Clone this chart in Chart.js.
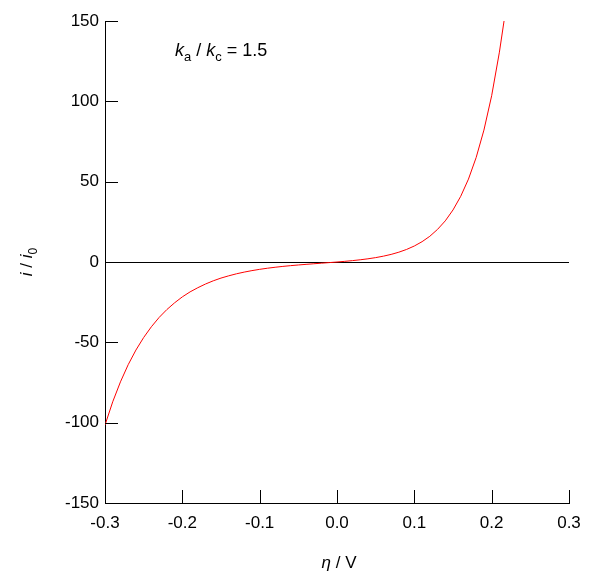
<!DOCTYPE html>
<html>
<head>
<meta charset="utf-8">
<script src="https://cdn.jsdelivr.net/npm/chart.js@4/dist/chart.umd.min.js"></script>
<style>
html,body{margin:0;padding:0;background:#fff;}
#wrap{width:610px;height:573px;position:relative;}
</style>
</head>
<body>
<div id="wrap"><canvas id="c" width="610" height="573"></canvas></div>
<script>
// Overpotential (V) and normalised current
const eta = [-0.30,-0.29,-0.28,-0.27,-0.26,-0.25,-0.24,-0.23,-0.22,-0.21,-0.20,-0.19,-0.18,-0.17,-0.16,-0.15,-0.14,-0.13,-0.12,-0.11,-0.10,-0.09,-0.08,-0.07,-0.06,-0.05,-0.04,-0.03,-0.02,-0.01,0.00,0.01,0.02,0.03,0.04,0.05,0.06,0.07,0.08,0.09,0.10,0.11,0.12,0.13,0.14,0.15,0.16,0.17,0.18,0.19,0.20,0.21,0.216];
const current = [-101.5,-87.0,-74.6,-63.9,-54.8,-47.0,-40.3,-34.5,-29.6,-25.4,-21.7,-18.6,-16.0,-13.7,-11.7,-10.0,-8.6,-7.35,-6.29,-5.36,-4.57,-3.88,-3.27,-2.74,-2.27,-1.85,-1.46,-1.09,-0.73,-0.37,0,0.40,0.86,1.38,1.99,2.73,3.63,4.73,6.11,7.82,9.96,12.65,16.0,20.3,25.6,32.4,40.9,51.6,65.1,82.1,103.5,130.6,150];
const xTicks = [-0.3,-0.2,-0.1,0.0,0.1,0.2,0.3];
const yTicks = [-150,-100,-50,0,50,100,150];

const FONT = '"Liberation Sans", Arial, sans-serif';
const points = eta.map((x,i)=>({x:x,y:current[i]}));

const deco = {
  id:'deco',
  afterDraw(chart){
    const ctx = chart.ctx, xs = chart.scales.x, ys = chart.scales.y, a = chart.chartArea;
    ctx.save();
    ctx.strokeStyle = '#000'; ctx.lineWidth = 1;
    // inward ticks
    xTicks.forEach(v=>{
      if (v === xTicks[0]) return;
      const px = Math.round(xs.getPixelForValue(v)) + 0.5;
      ctx.beginPath(); ctx.moveTo(px, a.bottom); ctx.lineTo(px, a.bottom - 13); ctx.stroke();
    });
    yTicks.forEach(v=>{
      if (v === yTicks[0]) return;
      const py = Math.round(ys.getPixelForValue(v)) + 0.5;
      ctx.beginPath(); ctx.moveTo(a.left, py); ctx.lineTo(a.left + 13, py); ctx.stroke();
    });
    ctx.fillStyle = '#000';
    ctx.textBaseline = 'alphabetic';
    let x, y;
    function put(t, f, dy){ ctx.font = f; ctx.textAlign='left'; ctx.fillText(t, x, y + (dy||0)); x += ctx.measureText(t).width; }
    // annotation k_a / k_c = 1.5
    const big18 = '18px ' + FONT, big18I = 'italic 18px ' + FONT, sub13 = '13px ' + FONT;
    x = 175; y = 56;
    put('k', big18I); put('a', sub13, 5); put(' / ', big18); put('k', big18I); put('c', sub13, 5); put(' = 1.5', big18);
    // x title
    const big = '17px ' + FONT, bigI = 'italic 17px ' + FONT, small = '12px ' + FONT;
    ctx.font = bigI; const w1 = ctx.measureText('η').width; ctx.font = big; const w2 = ctx.measureText(' / V').width;
    x = 339 - (w1 + w2)/2; y = 568;
    put('η', bigI); put(' / V', big);
    // y title (rotated)
    ctx.translate(32, 262); ctx.rotate(-Math.PI/2);
    ctx.font = bigI; const a1 = ctx.measureText('i').width;
    ctx.font = big; const a2 = ctx.measureText(' / ').width;
    ctx.font = bigI; const a3 = ctx.measureText('i').width;
    ctx.font = small; const a4 = ctx.measureText('0').width;
    x = -(a1+a2+a3+a4)/2; y = 0;
    put('i', bigI); put(' / ', big); put('i', bigI); put('0', small, 5);
    ctx.restore();
  }
};

new Chart(document.getElementById('c'), {
  type:'scatter',
  data:{datasets:[{data:points, showLine:true, borderColor:'#ff0000', borderWidth:1, pointRadius:0, tension:0, fill:false}]},
  options:{
    responsive:false, animation:false, events:[],
    layout:{padding:{top:21, right:41, left:0, bottom:0}},
    plugins:{legend:{display:false}, tooltip:{enabled:false}},
    scales:{
      x:{type:'linear', min:-0.3, max:0.3,
        afterBuildTicks(s){ s.ticks = xTicks.map(v=>({value:v})); },
        afterFit(s){ s.height = 70; },
        border:{display:true, color:'#000', width:1},
        grid:{display:false, drawTicks:false},
        ticks:{color:'#000', padding:10, maxRotation:0, font:{family:FONT, size:17}, callback:v=>Number(v).toFixed(1)}
      },
      y:{type:'linear', min:-150, max:150,
        afterBuildTicks(s){ s.ticks = yTicks.map(v=>({value:v})); },
        afterFit(s){ s.width = 105; },
        border:{display:true, color:'#000', width:1},
        grid:{drawTicks:false, drawOnChartArea:true, color:c=> (c.tick && c.tick.value===0) ? '#000' : 'rgba(0,0,0,0)', lineWidth:1},
        ticks:{color:'#000', padding:6, font:{family:FONT, size:17}, callback:v=>String(v)}
      }
    }
  },
  plugins:[deco]
});
</script>
</body>
</html>
